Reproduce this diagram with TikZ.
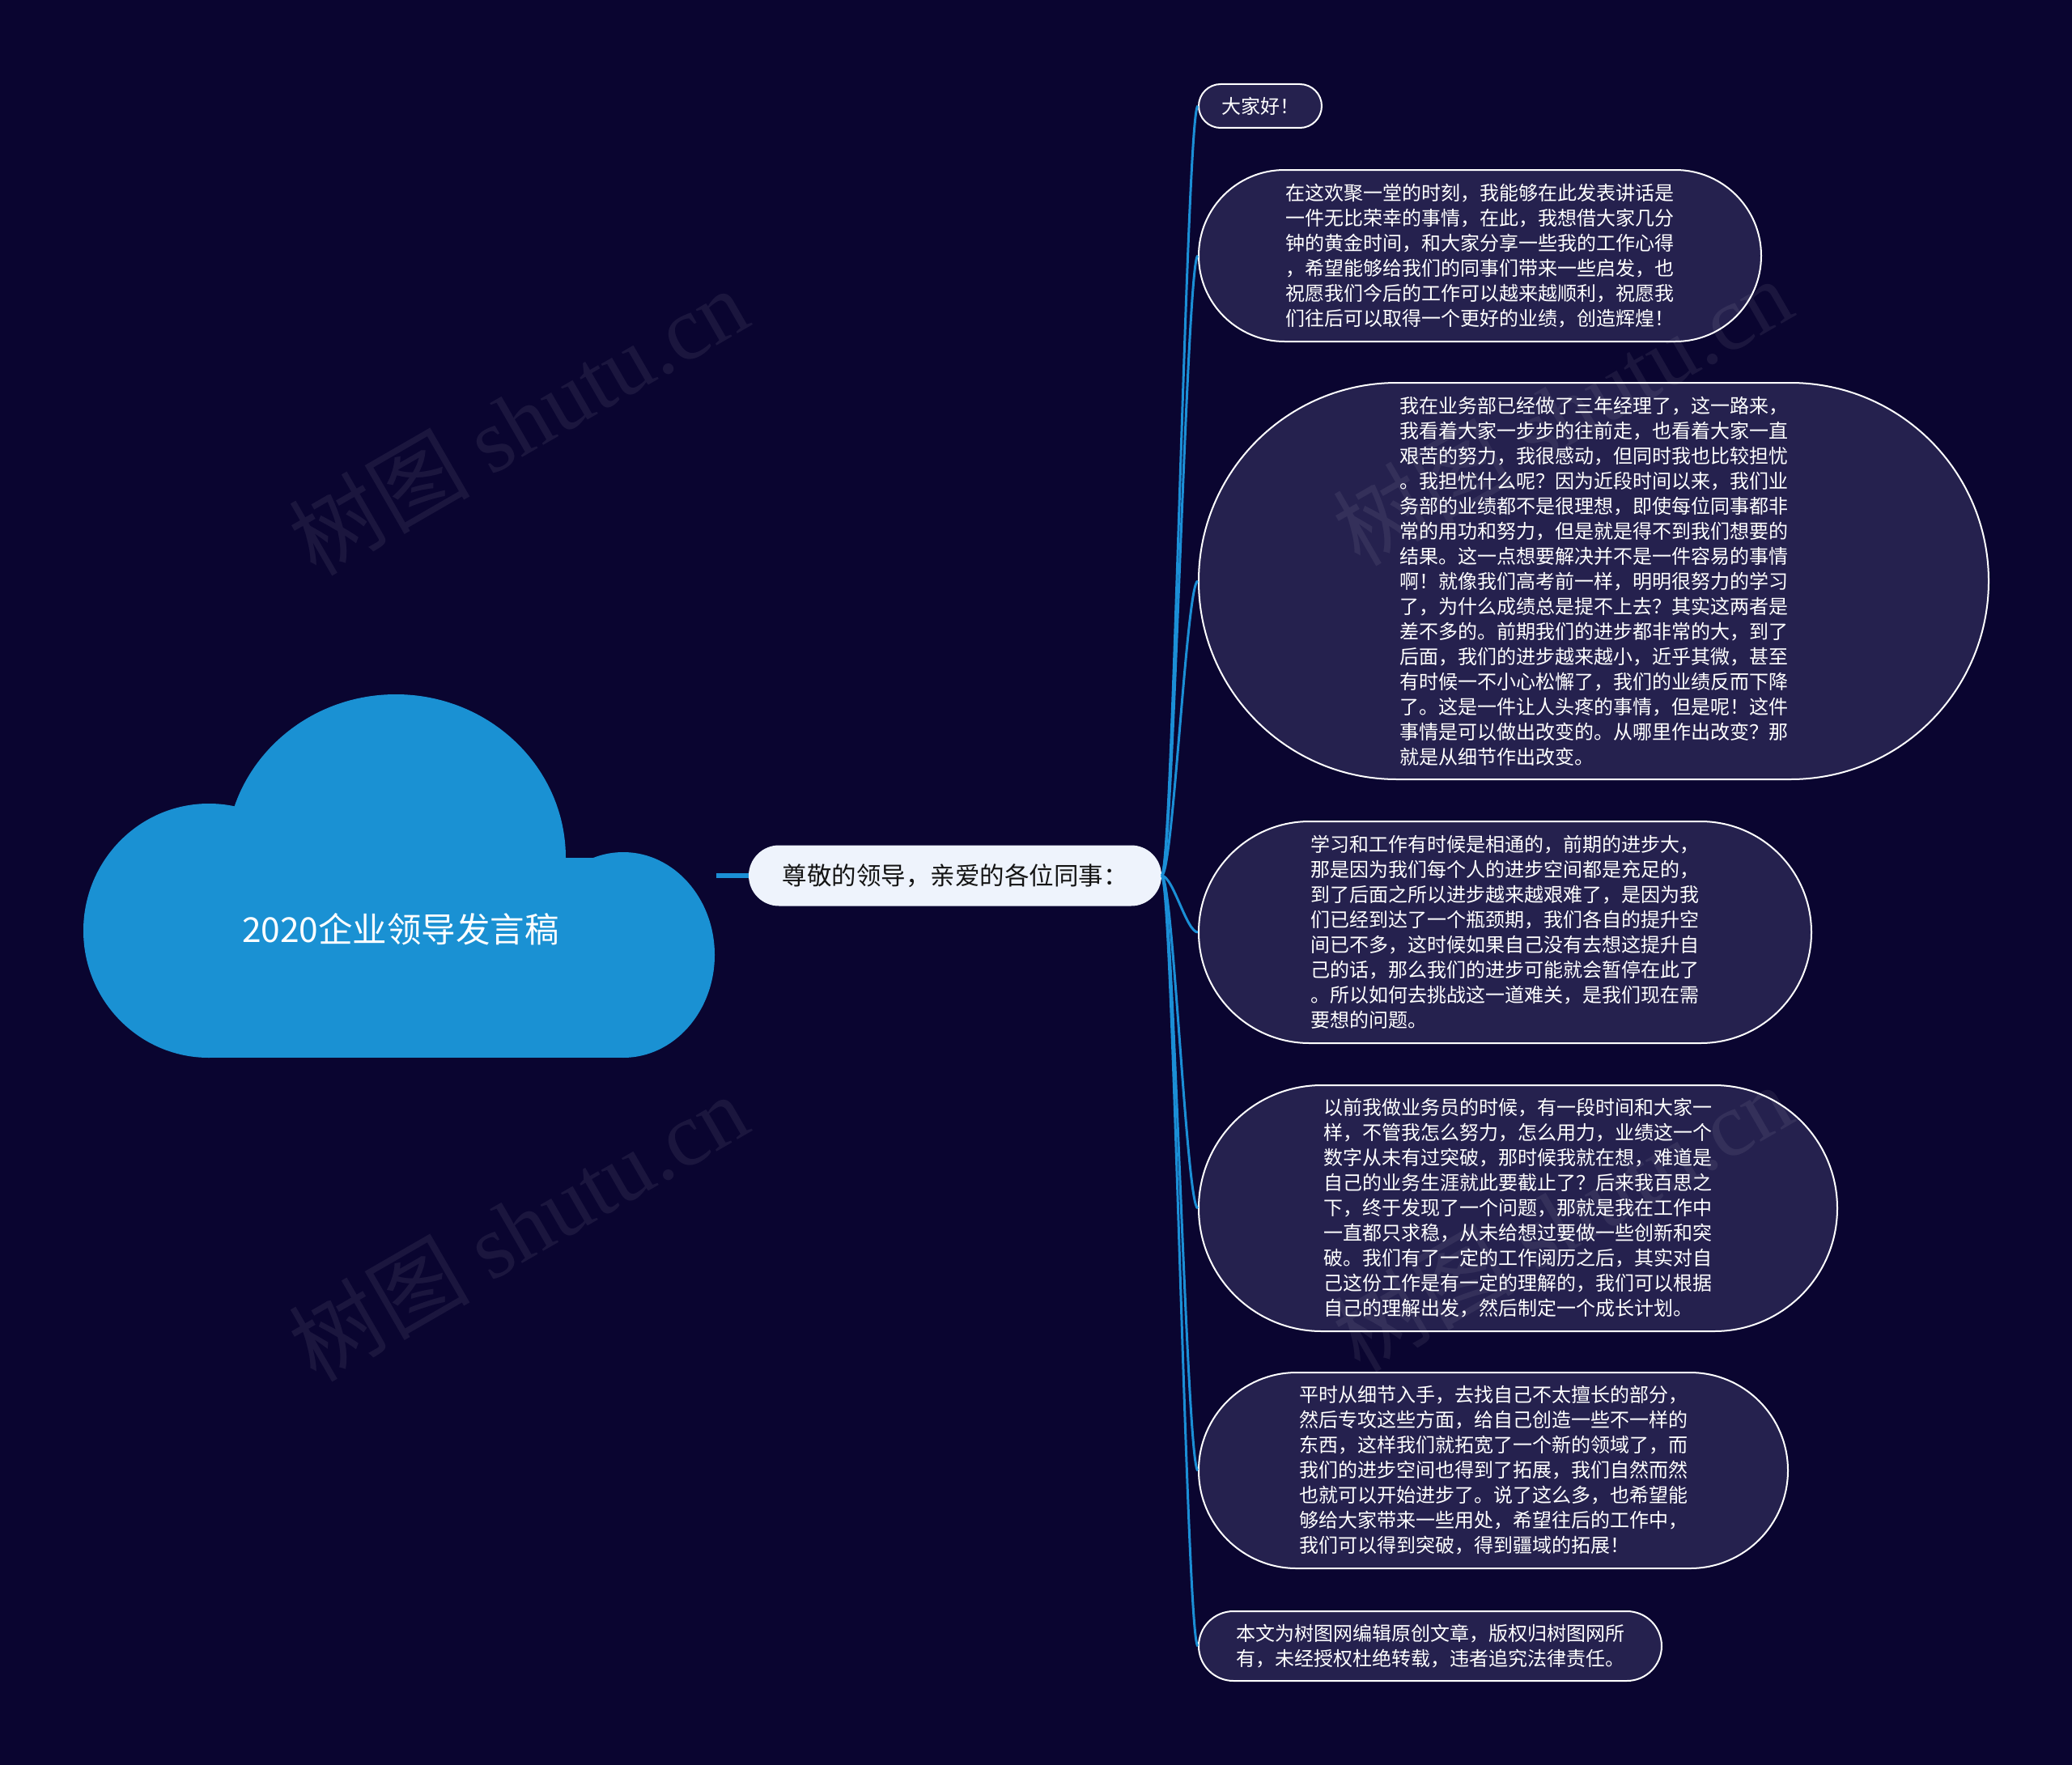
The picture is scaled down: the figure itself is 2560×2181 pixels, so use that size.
\documentclass[tikz,border=0pt]{standalone}
\usepackage{fontspec}
\setmainfont{Noto Sans CJK SC}
\newfontfamily\wmlatin{Liberation Serif}
\usetikzlibrary{shapes.misc}
\definecolor{bg}{RGB}{10,5,48}
\definecolor{leaffill}{RGB}{37,33,78}
\definecolor{linkblue}{RGB}{27,143,214}
\definecolor{cloudblue}{RGB}{26,145,211}
\definecolor{topicfill}{RGB}{238,243,252}
\begin{document}
\begin{tikzpicture}[x=1pt,y=-1pt,
  leaf/.style={rounded rectangle, draw=white, line width=2pt, fill=leaffill,
    text=white, font=\fontsize{24pt}{31pt}\selectfont, align=left, inner sep=0pt},
  conn/.style={draw=linkblue, line width=3pt},
  watermark/.style={rotate=30, text=white, text opacity=0.07,
    font=\fontsize{112pt}{120pt}\selectfont}
  ]
\fill[bg] (0,0) rectangle (2560,2181);
\useasboundingbox (0,0) rectangle (2560,2181);

% cloud
\fill[cloudblue] (258,1150) ellipse [x radius=155pt, y radius=157pt];
\fill[cloudblue] (489,1060) ellipse [x radius=210pt, y radius=202pt];
\fill[cloudblue] (770,1180) ellipse [x radius=113pt, y radius=127pt];
\fill[cloudblue] (258,1060) rectangle (770,1307);
\node[text=white, font=\fontsize{42.5pt}{50pt}\selectfont] (root) at (495,1148) {2020企业领导发言稿};
\coordinate (rootE) at (885,1082);

% topic
\node[rounded rectangle, fill=topicfill, minimum width=510pt, minimum height=75pt,
  inner sep=0pt, font=\fontsize{30.5pt}{36pt}\selectfont, text=black!92] (topic) at (1180,1082)
  {尊敬的领导，亲爱的各位同事：};

% leaves
\node[leaf, minimum width=152pt, minimum height=54pt] (l1) at (1557,131) {大家好！};
\node[leaf, minimum width=695pt, minimum height=212pt] (l2) at (1828.5,316) {在这欢聚一堂的时刻，我能够在此发表讲话是\\一件无比荣幸的事情，在此，我想借大家几分\\钟的黄金时间，和大家分享一些我的工作心得\\，希望能够给我们的同事们带来一些启发，也\\祝愿我们今后的工作可以越来越顺利，祝愿我\\们往后可以取得一个更好的业绩，创造辉煌！};
\node[leaf, minimum width=976pt, minimum height=490pt] (l3) at (1969,718) {我在业务部已经做了三年经理了，这一路来，\\我看着大家一步步的往前走，也看着大家一直\\艰苦的努力，我很感动，但同时我也比较担忧\\。我担忧什么呢？因为近段时间以来，我们业\\务部的业绩都不是很理想，即使每位同事都非\\常的用功和努力，但是就是得不到我们想要的\\结果。这一点想要解决并不是一件容易的事情\\啊！就像我们高考前一样，明明很努力的学习\\了，为什么成绩总是提不上去？其实这两者是\\差不多的。前期我们的进步都非常的大，到了\\后面，我们的进步越来越小，近乎其微，甚至\\有时候一不小心松懈了，我们的业绩反而下降\\了。这是一件让人头疼的事情，但是呢！这件\\事情是可以做出改变的。从哪里作出改变？那\\就是从细节作出改变。};
\node[leaf, minimum width=757pt, minimum height=274pt] (l4) at (1859.5,1152) {学习和工作有时候是相通的，前期的进步大，\\那是因为我们每个人的进步空间都是充足的，\\到了后面之所以进步越来越艰难了，是因为我\\们已经到达了一个瓶颈期，我们各自的提升空\\间已不多，这时候如果自己没有去想这提升自\\己的话，那么我们的进步可能就会暂停在此了\\。所以如何去挑战这一道难关，是我们现在需\\要想的问题。};
\node[leaf, minimum width=789pt, minimum height=304pt] (l5) at (1875.5,1493) {以前我做业务员的时候，有一段时间和大家一\\样，不管我怎么努力，怎么用力，业绩这一个\\数字从未有过突破，那时候我就在想，难道是\\自己的业务生涯就此要截止了？后来我百思之\\下，终于发现了一个问题，那就是我在工作中\\一直都只求稳，从未给想过要做一些创新和突\\破。我们有了一定的工作阅历之后，其实对自\\己这份工作是有一定的理解的，我们可以根据\\自己的理解出发，然后制定一个成长计划。};
\node[leaf, minimum width=728pt, minimum height=242pt] (l6) at (1845,1817) {平时从细节入手，去找自己不太擅长的部分，\\然后专攻这些方面，给自己创造一些不一样的\\东西，这样我们就拓宽了一个新的领域了，而\\我们的进步空间也得到了拓展，我们自然而然\\也就可以开始进步了。说了这么多，也希望能\\够给大家带来一些用处，希望往后的工作中，\\我们可以得到突破，得到疆域的拓展！};
\node[leaf, minimum width=572pt, minimum height=86pt] (l7) at (1767,2034) {本文为树图网编辑原创文章，版权归树图网所\\有，未经授权杜绝转载，违者追究法律责任。};

% connectors
\draw[draw=linkblue, line width=6pt] (rootE) -- (topic.west);
\foreach \n in {l1,l2,l3,l4,l5,l6,l7}{
  \draw[conn] (topic.east) .. controls +(14,0) and +(-14,0) .. (\n.west);
}

% watermarks
\node[watermark] (wm1) at (640,520) {树图 {\wmlatin shutu.cn}};
\node[watermark] (wm2) at (640,1516) {树图 {\wmlatin shutu.cn}};
\node[watermark] (wm3) at (1930,508) {树图 {\wmlatin shutu.cn}};
\node[watermark] (wm4) at (1930,1504) {树图 {\wmlatin shutu.cn}};
\end{tikzpicture}
\end{document}
